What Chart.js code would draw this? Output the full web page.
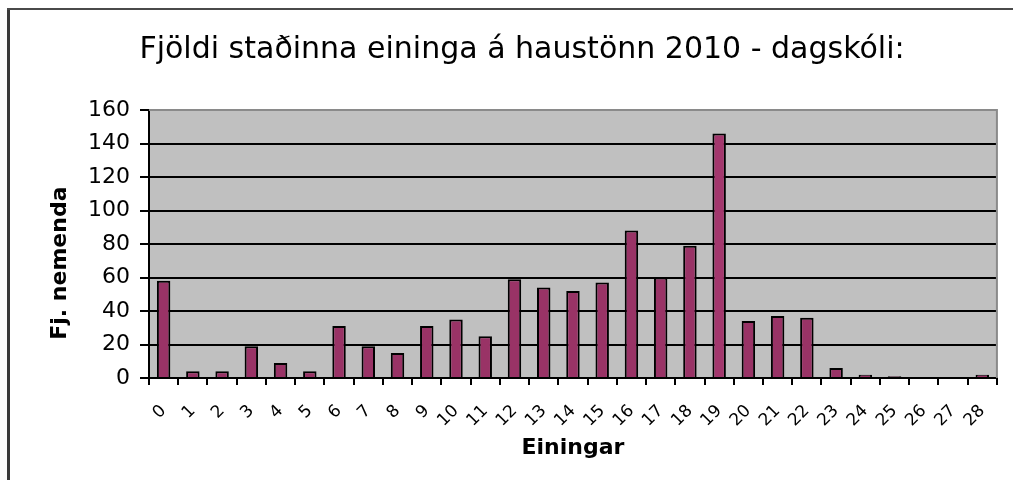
<!DOCTYPE html>
<html>
<head>
<meta charset="utf-8">
<script src="https://cdn.jsdelivr.net/npm/chart.js@4.4.1/dist/chart.umd.min.js"></script>
<style>
html,body{margin:0;padding:0;background:#fff;}
#wrap{position:absolute;left:0;top:0;width:1013px;height:480px;}
</style>
</head>
<body>
<div id="wrap"><canvas id="c" width="1013" height="480"></canvas></div>
<script>
const categories = ['0','1','2','3','4','5','6','7','8','9','10','11','12','13','14','15','16','17','18','19','20','21','22','23','24','25','26','27','28'];
const studentCounts = [58,4,4,19,9,4,31,19,15,31,35,25,59,54,52,57,88,60,79,146,34,37,36,6,2,1,0,0,2];
const yTickValues = [0,20,40,60,80,100,120,140,160];
const chartTitle = 'Fjöldi staðinna eininga á haustönn 2010 - dagskóli:';
const xTitle = 'Einingar';
const yTitle = 'Fj. nemenda';

const framePlugin = {
  id: 'frame',
  beforeDraw(chart) {
    const ctx = chart.ctx;
    const a = chart.chartArea;
    ctx.save();
    ctx.fillStyle = '#ffffff';
    ctx.fillRect(0, 0, chart.width, chart.height);
    ctx.fillStyle = '#3a3a3a';
    ctx.fillRect(7, 8, 3, chart.height - 8);
    ctx.fillStyle = '#4a4a4a';
    ctx.fillRect(7, 8, chart.width - 7, 2);
    ctx.fillStyle = '#c0c0c0';
    ctx.fillRect(a.left, a.top, a.right - a.left, a.bottom - a.top);
    ctx.restore();
  },
  afterDatasetsDraw(chart) {
    const ctx = chart.ctx;
    const a = chart.chartArea;
    ctx.save();
    ctx.strokeStyle = '#8a8a8a';
    ctx.lineWidth = 2;
    ctx.beginPath();
    ctx.moveTo(a.left, a.top);
    ctx.lineTo(a.right, a.top);
    ctx.lineTo(a.right, a.bottom);
    ctx.stroke();
    ctx.restore();
  }
};

const barColors = studentCounts.map((v, i) => i === 19 ? '#a3376d' : '#993366');

new Chart(document.getElementById('c'), {
  type: 'bar',
  data: {
    labels: categories,
    datasets: [{
      data: studentCounts,
      backgroundColor: barColors,
      borderColor: '#000000',
      borderWidth: 2,
      borderSkipped: 'bottom',
      barPercentage: 0.46,
      categoryPercentage: 1.0
    }]
  },
  options: {
    responsive: false,
    animation: false,
    devicePixelRatio: 1,
    layout: { padding: { left: 47, right: 16, top: 0, bottom: 0 } },
    plugins: {
      legend: { display: false },
      tooltip: { enabled: false },
      title: {
        display: true,
        text: chartTitle,
        color: '#000',
        font: { family: 'DejaVu Sans', size: 30, weight: 'normal' },
        padding: { top: 32, bottom: 42 }
      }
    },
    scales: {
      x: {
        type: 'category',
        offset: true,
        grid: { display: true, offset: true, drawOnChartArea: false, color: '#000', tickColor: '#000', tickLength: 7, lineWidth: 2 },
        border: { display: true, color: '#000', width: 2 },
        ticks: { autoSkip: false, maxRotation: 45, minRotation: 45, padding: 16, color: '#000', font: { family: 'DejaVu Sans', size: 17 } },
        title: { display: true, text: xTitle, color: '#000', font: { family: 'DejaVu Sans', size: 22, weight: 'bold' }, padding: { top: 0, bottom: 19 } },
        afterFit(scale) { scale.height = 102; }
      },
      y: {
        min: 0,
        max: 160,
        afterBuildTicks(scale) { scale.ticks = yTickValues.map(v => ({ value: v })); },
        grid: {
          color: (c) => (c.tick && c.tick.value === 160) ? '#8a8a8a' : '#000',
          tickColor: '#000',
          lineWidth: 2,
          tickLength: 9
        },
        border: { display: true, color: '#000', width: 2 },
        ticks: { padding: 10, color: '#000', font: { family: 'DejaVu Sans', size: 22 } },
        title: { display: true, text: yTitle + '     ', color: '#000', font: { family: 'DejaVu Sans', size: 22, weight: 'bold' }, padding: { top: 0, bottom: 0 } },
        afterFit(scale) { scale.width = 102; }
      }
    }
  },
  plugins: [framePlugin]
});
</script>
</body>
</html>
